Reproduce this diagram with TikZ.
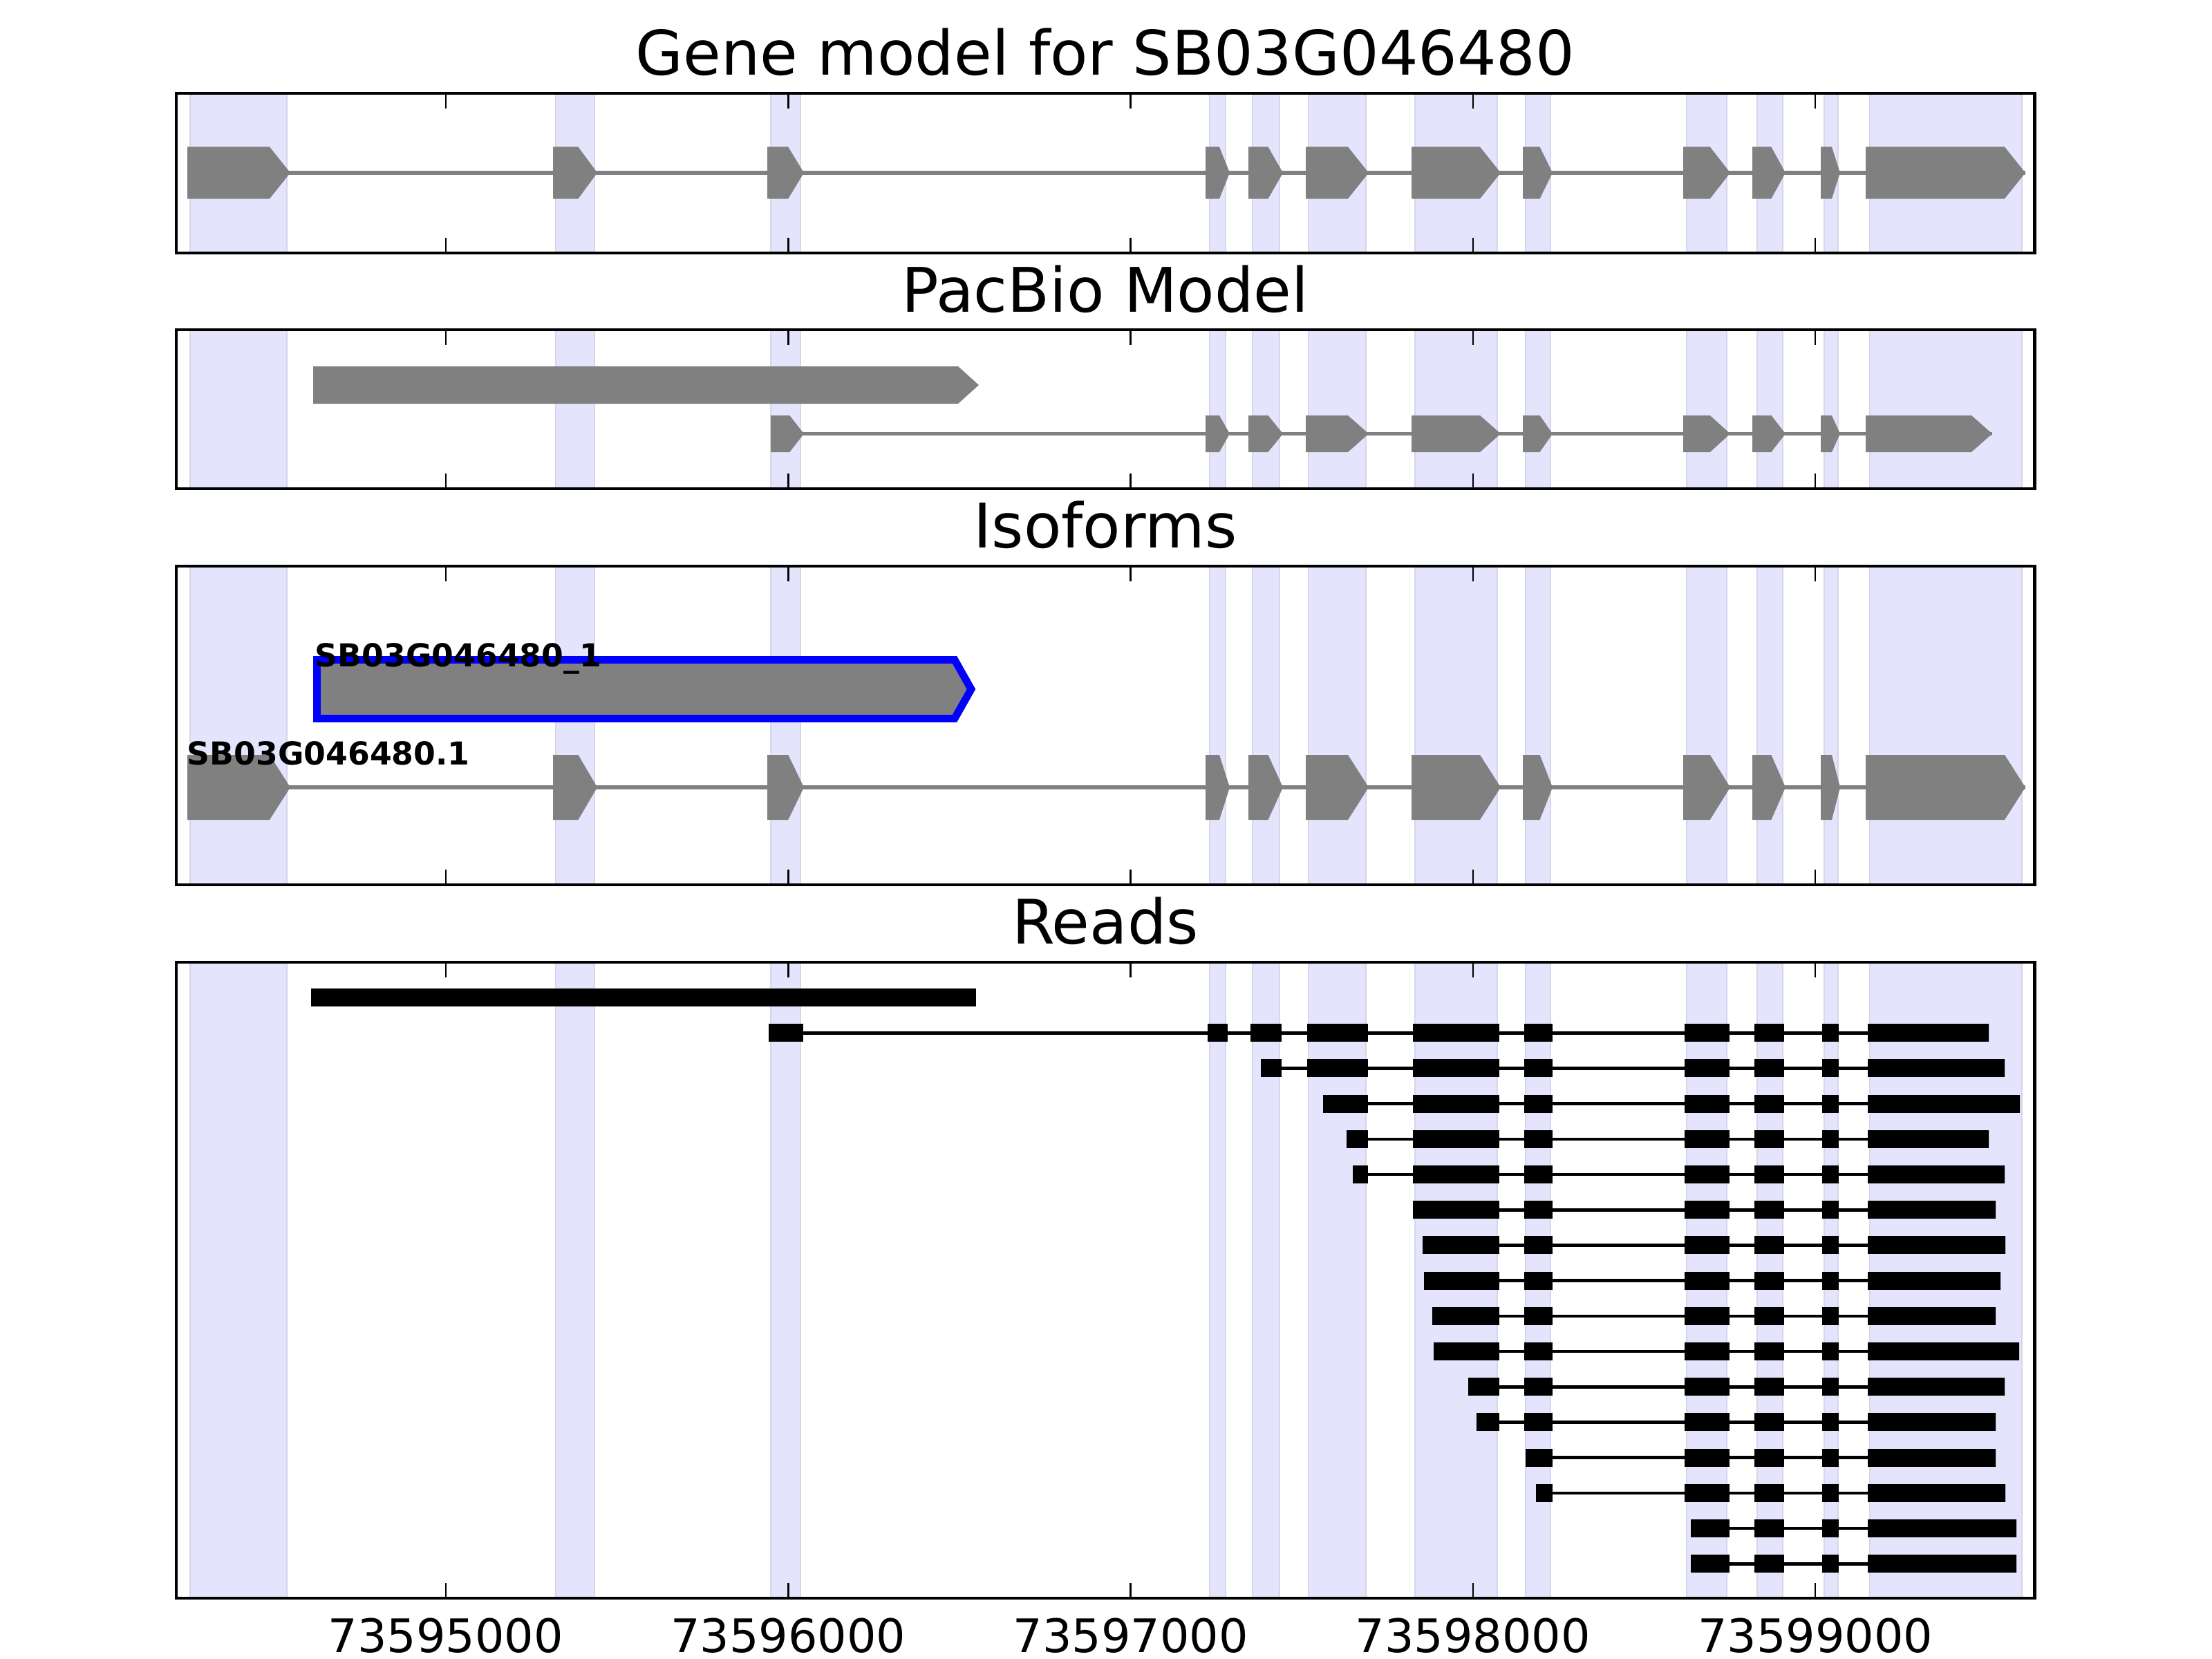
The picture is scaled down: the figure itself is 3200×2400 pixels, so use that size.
\documentclass[tikz,border=0pt]{standalone}
\usepackage{fontspec}
\setmainfont{DejaVu Sans}

\definecolor{exongray}{RGB}{128,128,128}
\definecolor{spanblue}{RGB}{228,228,253}
\definecolor{spanedge}{RGB}{214,214,234}

\tikzset{
  frame/.style={line width=1.4pt},
  axtick/.style={line width=0.7pt},
  span/.style={fill=spanblue, draw=spanedge, line width=0.6pt},
  intron/.style={exongray, line width=1.6pt},
  readline/.style={line width=1.3pt},
  title/.style={font=\fontsize{25.3}{30}\selectfont, inner sep=0pt, anchor=base},
  ticklabel/.style={font=\fontsize{19}{23}\selectfont, inner sep=0pt, anchor=base},
  isolabel/.style={font=\fontsize{13}{16}\selectfont\bfseries, inner sep=0pt, anchor=base west},
}

% gene feature: start, end, centre line, half height
\newcommand{\exonshape}[4]{%
  \pgfmathsetmacro{\headlen}{min(30,0.43*(#2-#1))}
  \fill[exongray] (#1,#3-#4) -- ({#2-\headlen},#3-#4) -- (#2,#3)
    -- ({#2-\headlen},#3+#4) -- (#1,#3+#4) -- cycle;}

\begin{document}
\begin{tikzpicture}[x=0.01cm, y=-0.01cm]
  \useasboundingbox (0,0) rectangle (3200,2400);

  % exon regions behind every panel
  \foreach \top/\bot in {135/366, 477/707, 819/1280, 1392/2312}
    \foreach \a/\b in {275/415, 804/860, 1115/1158, 1750/1773, 1812/1851, 1893/1976,
                       2047/2166, 2207/2243, 2440/2498, 2542/2579, 2639/2659, 2705/2925}
      \filldraw[span] (\a,\top) rectangle (\b,\bot);

  % gene model
  \draw[intron] (271,250) -- (2930,250);
  \foreach \a/\b in {271/420, 800/864, 1110/1163, 1744/1779, 1806/1856, 1889/1980,
                     2042/2171, 2203/2246, 2435/2503, 2535/2583, 2634/2662, 2699/2930}
    {\exonshape{\a}{\b}{250}{37.5}}

  % pacbio model
  \exonshape{453}{1416}{557}{27}
  \draw[intron] (1115,627.5) -- (2882,627.5);
  \foreach \a/\b in {1115/1163, 1744/1779, 1806/1856, 1889/1980, 2042/2171,
                     2203/2246, 2435/2503, 2535/2583, 2634/2662, 2699/2882}
    {\exonshape{\a}{\b}{627.5}{26.5}}

  % isoforms
  \filldraw[fill=exongray, draw=blue, line width=3.1pt]
    (458.5,954.5) -- (1381,954.5) -- (1405,997) -- (1381,1039.5) -- (458.5,1039.5) -- cycle;
  \draw[intron] (271,1139) -- (2930,1139);
  \foreach \a/\b in {271/420, 800/864, 1110/1163, 1744/1779, 1806/1856, 1889/1980,
                     2042/2171, 2203/2246, 2435/2503, 2535/2583, 2634/2662, 2699/2930}
    {\exonshape{\a}{\b}{1139}{47}}
  \node[isolabel] (pblabel) at (455,964) {SB03G046480\_1};
  \node[isolabel] (reflabel) at (270,1106) {SB03G046480.1};

  % reads
  \fill (450,1430) rectangle (1412,1456);
  \foreach \s/\e [count=\k] in {1112/2877, 1824/2900, 1914/2922, 1948/2877, 1957/2900,
                                2044/2887, 2058/2901, 2060/2894, 2072/2887, 2074/2921,
                                2124/2900, 2136/2887, 2207/2887, 2222/2901, 2446/2917, 2446/2917} {
    \pgfmathsetmacro{\ry}{1443+51.2*\k}
    \draw[readline] (\s,\ry) -- (\e,\ry);
    \begin{scope}
      \clip (\s,\ry-13) rectangle (\e,\ry+13);
      \foreach \a/\b in {1112/1162, 1747/1776, 1809/1854, 1891/1979, 2044/2169,
                         2205/2246, 2437/2502, 2538/2581, 2636/2660, 2702/2940}
        \fill (\a,\ry-13) rectangle (\b,\ry+13);
    \end{scope}
  }

  % frames and ticks
  \foreach \top/\bot in {135/366, 477/707, 819/1280, 1392/2312} {
    \draw[frame] (255,\top) rectangle (2943,\bot);
    \foreach \t in {645, 1140.3, 1635.6, 2131, 2626.2}
      \draw[axtick] (\t,\top) -- ++(0,22) (\t,\bot) -- ++(0,-22);
  }

  % titles and tick labels
  \node[title] (genetitle) at (1599,109) {Gene model for SB03G046480};
  \node[title] (pacbiotitle) at (1599,451) {PacBio Model};
  \node[title] (isotitle) at (1599,792) {Isoforms};
  \node[title] (readstitle) at (1599,1365) {Reads};
  \foreach \t/\v [count=\i] in {645/73595000, 1140.3/73596000, 1635.6/73597000,
                                2131/73598000, 2626.2/73599000}
    \node[ticklabel] (pos\i) at (\t,2390) {\v};
\end{tikzpicture}
\end{document}
